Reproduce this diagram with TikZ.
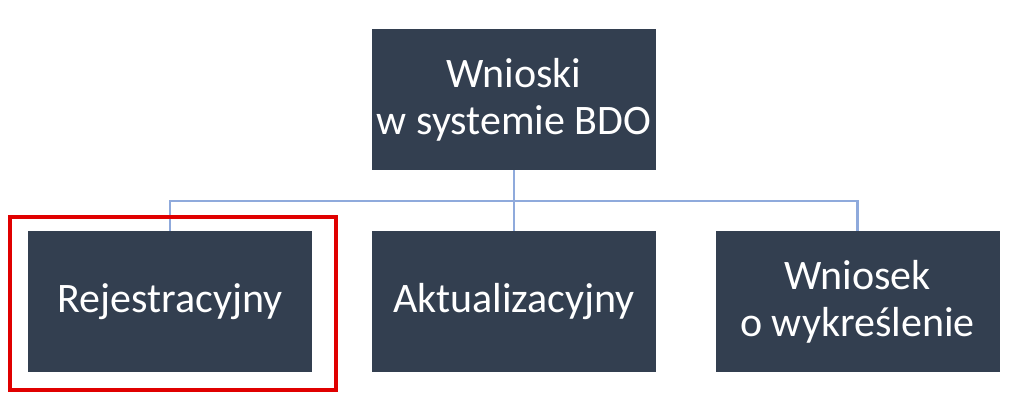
\documentclass[tikz,border=0pt]{standalone}
\usepackage{fontspec}
\setmainfont{Carlito}
\usepackage{tikz}
\usetikzlibrary{positioning,calc}
\usepackage{xcolor}

\definecolor{boxdark}{HTML}{333F50}
\definecolor{linkblue}{HTML}{8FAADC}
\definecolor{markred}{HTML}{E00000}

\begin{document}
\begin{tikzpicture}[
    x=0.75pt, y=-0.75pt,
    every node/.style={
        rectangle,
        fill=boxdark,
        text=white,
        align=center,
        inner sep=2pt,
        minimum width=213pt,
        minimum height=105.75pt,
        font=\fontsize{31.5}{35}\selectfont
    },
    conn/.style={draw=linkblue, line width=1.7pt},
    hilite/.style={draw=markred, line width=2.3pt, fill=none, minimum width=244.5pt, minimum height=129.75pt}
]
\useasboundingbox (0,0) rectangle (1023,410);

% ---------------- Boxes ----------------
\node (top) at (514,99.5) {Wnioski\\w systemie BDO};
\node (reg) at (170,301.5) {Rejestracyjny};
\node (akt) at (514,301.5) {Aktualizacyjny};
\node (wyk) at (857.5,301.5) {Wniosek\\o wykreślenie};

% ---------------- Connectors ----------------
\coordinate (hub) at (514,201);
\draw[conn] (top.south) -- (akt.north);
\draw[conn] (reg.north) |- (hub) -| (wyk.north);

% ---------------- Highlight ----------------
\node[hilite] (sel) at (173,303.5) {};

\end{tikzpicture}
\end{document}
